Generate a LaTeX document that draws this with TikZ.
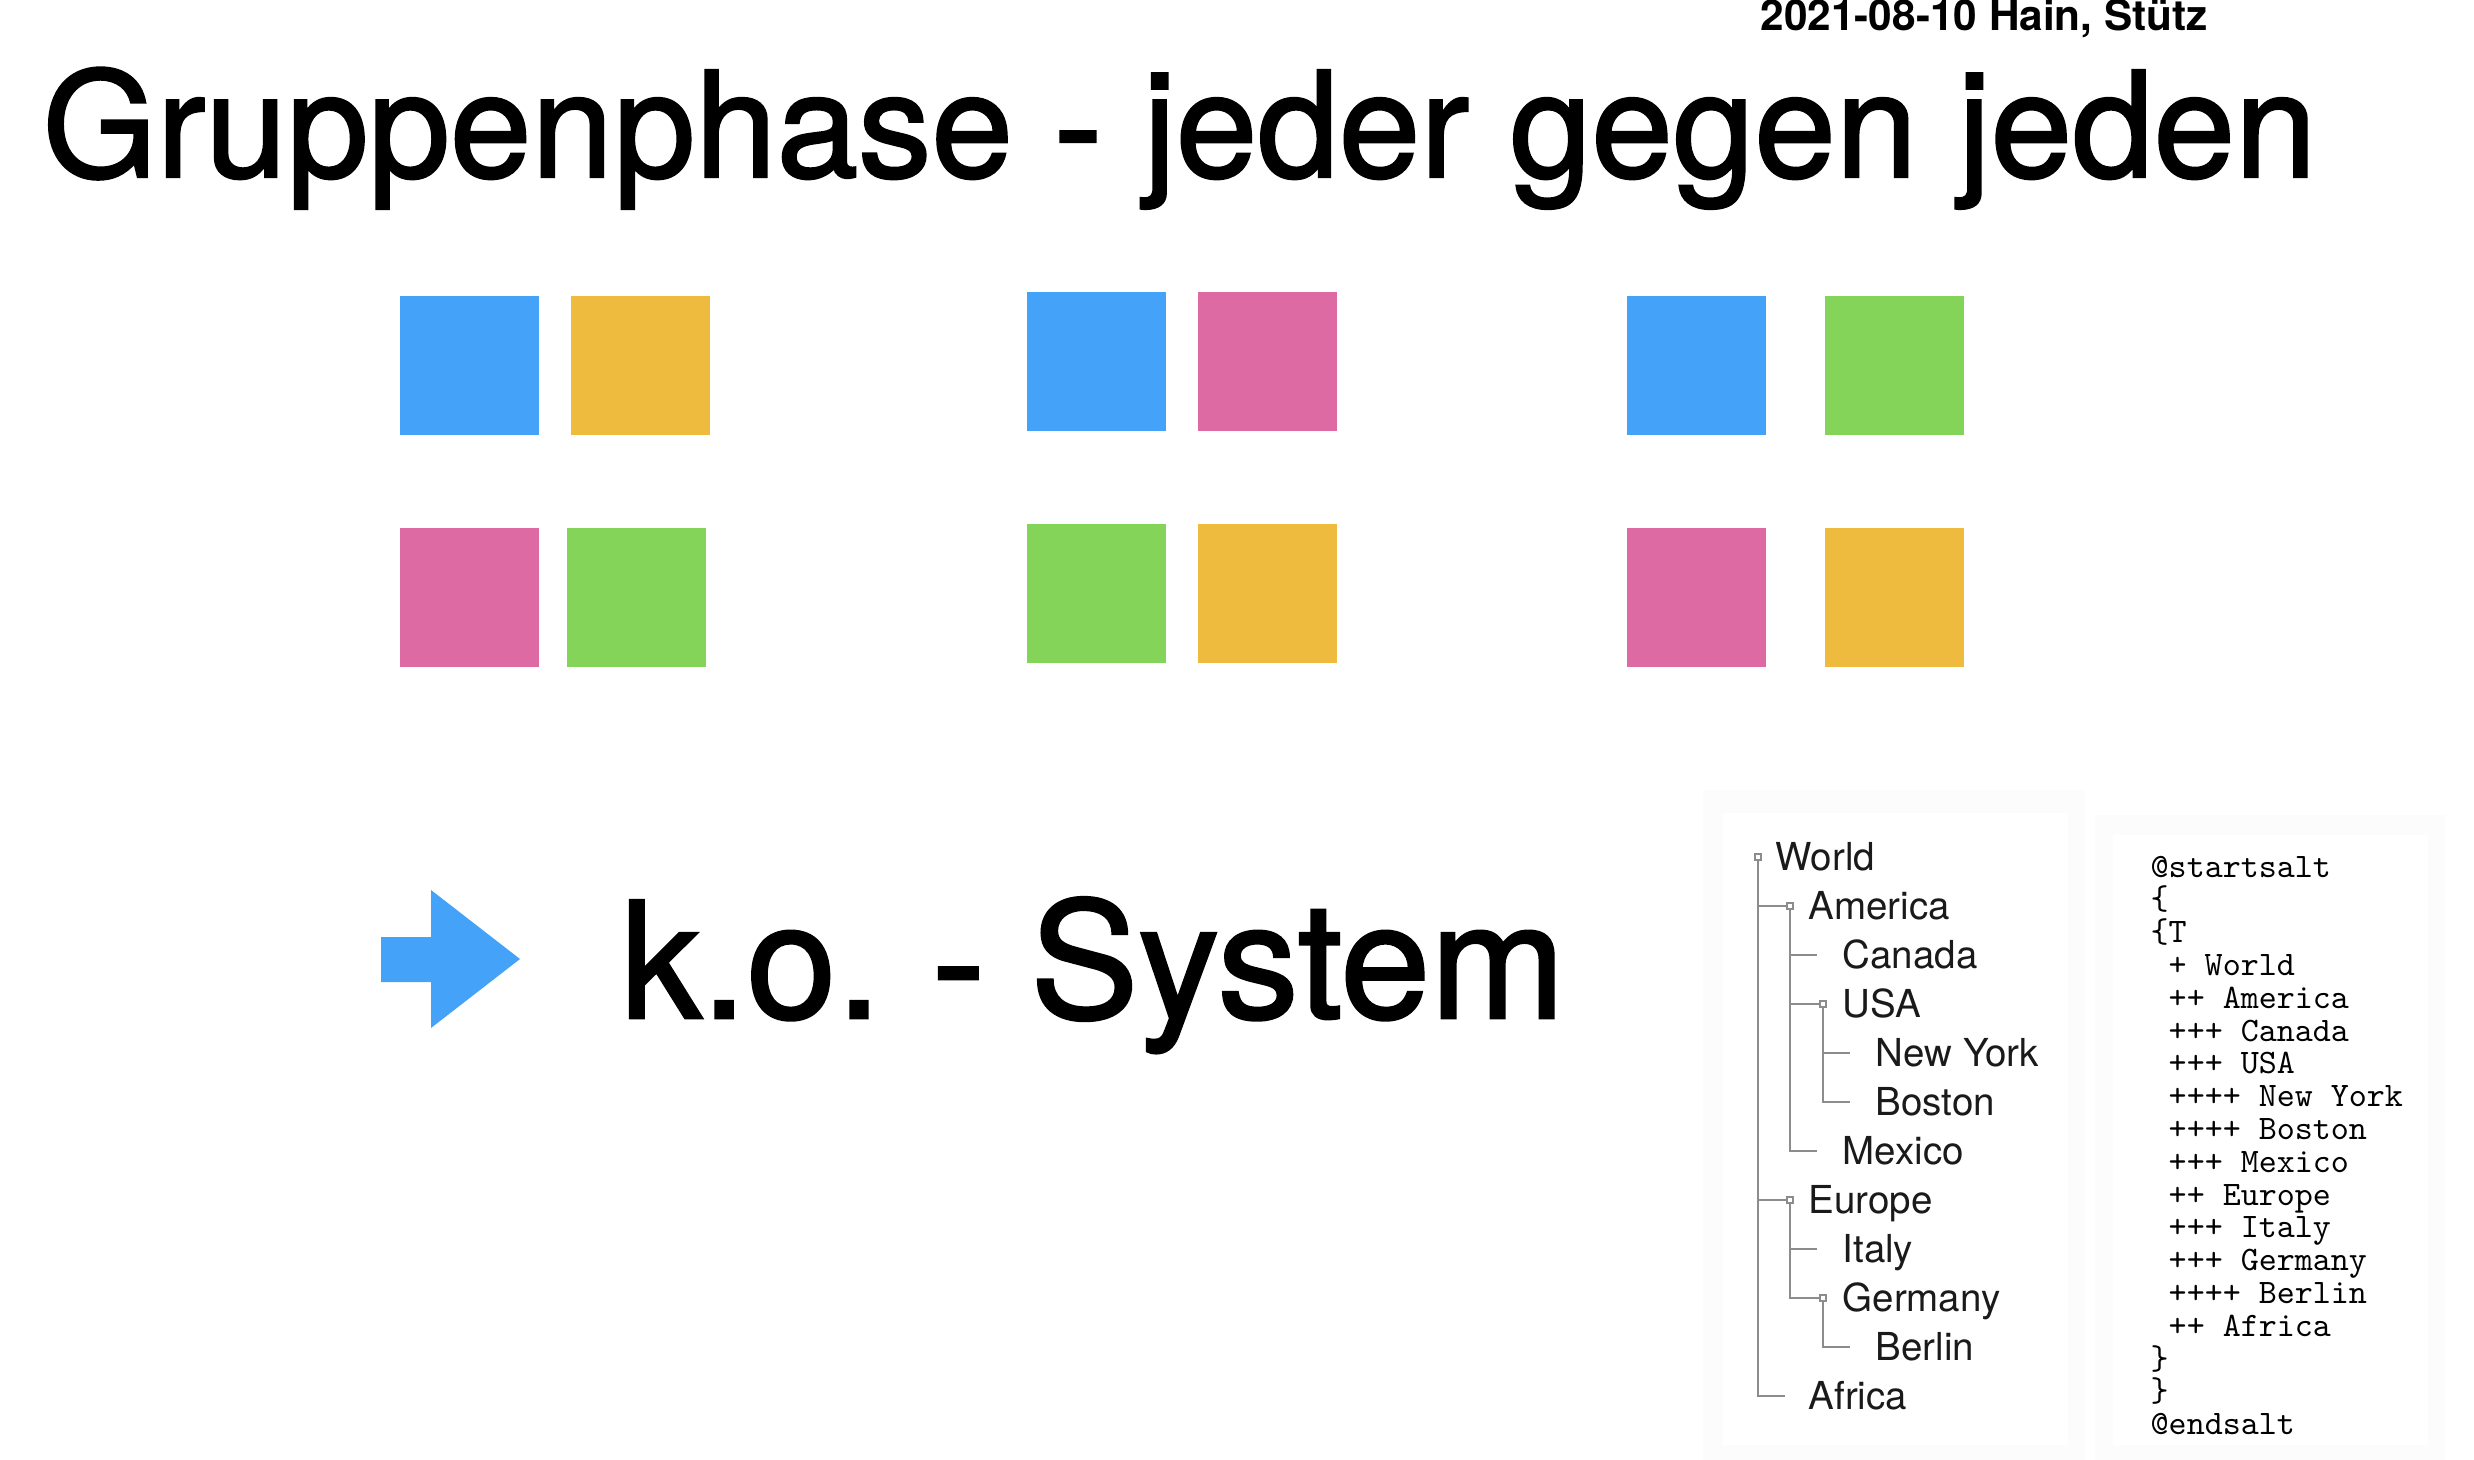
\documentclass[tikz,border=0pt]{standalone}
\usepackage{fontspec}
\setmainfont{TeX Gyre Heros}
\newfontfamily\heavyfont[FakeBold=1.6]{TeX Gyre Heros}
\definecolor{cblue}{HTML}{44A2F8}
\definecolor{cyellow}{HTML}{EFBB3F}
\definecolor{cpink}{HTML}{DE6AA4}
\definecolor{cgreen}{HTML}{83D458}
\definecolor{treegray}{HTML}{8C8C8C}
\definecolor{treetext}{HTML}{1A1A1A}
\begin{document}
\begin{tikzpicture}[x=0.01cm,y=-0.01cm,
  sq/.style={minimum size=1.39cm,inner sep=0pt,outer sep=0pt,draw=none},
  tline/.style={draw=treegray,line width=0.55pt},
  tbox/.style={draw=treegray,fill=white,line width=0.5pt,minimum size=0.065cm,inner sep=0pt,outer sep=0pt},
  ttext/.style={anchor=base west,inner sep=0pt,text=treetext,font=\fontsize{10.95}{12}\selectfont},
  codeline/.style={anchor=base west,inner sep=0pt,font=\ttfamily\fontsize{9.76}{10}\selectfont}]
\useasboundingbox (0,0) rectangle (2474,1460);
\fill[white] (0,0) rectangle (2474,1460);
% panels
\fill[black!1.2] (1703,790) rectangle (2085,1460);
\fill[white] (1723,813) rectangle (2068,1445);
\fill[black!1.2] (2095,815) rectangle (2445,1460);
\fill[white] (2113,835) rectangle (2428,1445);
% titles
\node[anchor=base west,inner sep=0pt,font=\heavyfont\fontsize{41.68}{48}\selectfont] (title) at (42,177) {Gruppenphase - jeder gegen jeden};
\node[anchor=base west,inner sep=0pt,font=\bfseries\fontsize{12.04}{14}\selectfont] (date) at (1760,30) {2021-08-10 Hain, Stütz};
\node[anchor=base west,inner sep=0pt,font=\heavyfont\fontsize{46}{52}\selectfont] (ko) at (620,1018) {k.o.\hspace{-0.06em} - System};
% arrow
\fill[cblue] (381,937) -- (431,937) -- (431,890) -- (520,959) -- (431,1028) -- (431,982) -- (381,982) -- cycle;
% group 1
\node[sq,fill=cblue] (g1a) at (469.5,365.5) {};
\node[sq,fill=cyellow] (g1b) at (640.5,365.5) {};
\node[sq,fill=cpink] (g1c) at (469.5,597.5) {};
\node[sq,fill=cgreen] (g1d) at (636.5,597.5) {};
% group 2
\node[sq,fill=cblue] (g2a) at (1096.5,361.5) {};
\node[sq,fill=cpink] (g2b) at (1267.5,361.5) {};
\node[sq,fill=cgreen] (g2c) at (1096.5,593.5) {};
\node[sq,fill=cyellow] (g2d) at (1267.5,593.5) {};
% group 3
\node[sq,fill=cblue] (g3a) at (1696.5,365.5) {};
\node[sq,fill=cgreen] (g3b) at (1894.5,365.5) {};
\node[sq,fill=cpink] (g3c) at (1696.5,597.5) {};
\node[sq,fill=cyellow] (g3d) at (1894.5,597.5) {};
% tree texts (baseline = row + 13)
\node[ttext] (tW)  at (1775,870)  {World};
\node[ttext] (tAm) at (1808,919)  {America};
\node[ttext] (tCa) at (1842,968)  {Canada};
\node[ttext] (tUS) at (1842,1017) {USA};
\node[ttext] (tNY) at (1875,1066) {New York};
\node[ttext] (tBo) at (1875,1115) {Boston};
\node[ttext] (tMx) at (1842,1164) {Mexico};
\node[ttext] (tEu) at (1808,1213) {Europe};
\node[ttext] (tIt) at (1842,1262) {Italy};
\node[ttext] (tGe) at (1842,1311) {Germany};
\node[ttext] (tBe) at (1875,1360) {Berlin};
\node[ttext] (tAf) at (1808,1409) {Africa};
% tree boxes
\node[tbox] (bW)  at (1758,857)  {};
\node[tbox] (bAm) at (1790,906)  {};
\node[tbox] (bUS) at (1823,1004) {};
\node[tbox] (bEu) at (1790,1200) {};
\node[tbox] (bGe) at (1823,1298) {};
% leaf ends
\coordinate (eCa) at (1817,955);
\coordinate (eNY) at (1850,1053);
\coordinate (eBo) at (1850,1102);
\coordinate (eMx) at (1817,1151);
\coordinate (eIt) at (1817,1249);
\coordinate (eBe) at (1850,1347);
\coordinate (eAf) at (1785,1396);
% tree lines
\draw[tline] (bW.south) |- (eAf);
\draw[tline] (bW.south |- bAm) -- (bAm.west);
\draw[tline] (bW.south |- bEu) -- (bEu.west);
\draw[tline] (bAm.south) |- (eMx);
\draw[tline] (bAm.south |- eCa) -- (eCa);
\draw[tline] (bAm.south |- bUS) -- (bUS.west);
\draw[tline] (bUS.south) |- (eBo);
\draw[tline] (bUS.south |- eNY) -- (eNY);
\draw[tline] (bEu.south) |- (bGe.west);
\draw[tline] (bEu.south |- eIt) -- (eIt);
\draw[tline] (bGe.south) |- (eBe);
% code
\foreach \t [count=\i] in {{@startsalt},{\{},{\{T},{\hphantom{x}+ World},{\hphantom{x}++ America},{\hphantom{x}+++ Canada},{\hphantom{x}+++ USA},{\hphantom{x}++++ New York},{\hphantom{x}++++ Boston},{\hphantom{x}+++ Mexico},{\hphantom{x}++ Europe},{\hphantom{x}+++ Italy},{\hphantom{x}+++ Germany},{\hphantom{x}++++ Berlin},{\hphantom{x}++ Africa},{\}},{\}},{@endsalt}}
  \node[codeline] (c\i) at (2150,{877+32.8*(\i-1)}) {\t};
\end{tikzpicture}
\end{document}
